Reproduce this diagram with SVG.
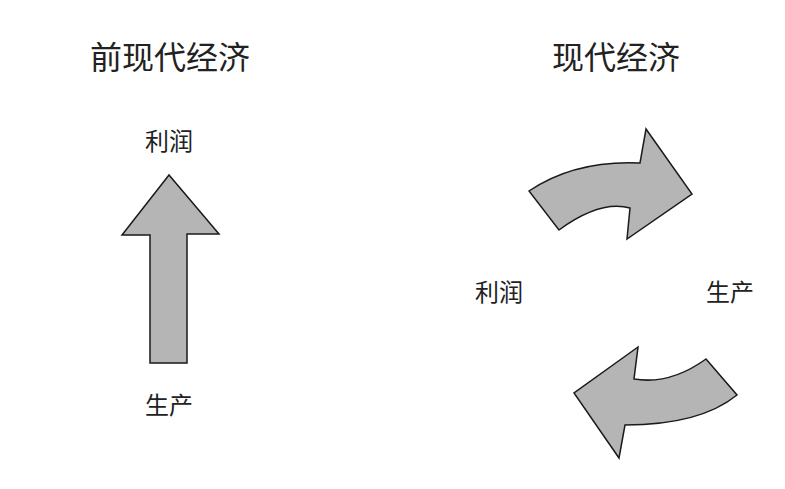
<svg xmlns="http://www.w3.org/2000/svg" width="785" height="489" viewBox="0 0 785 489">
<style>
.arrow{fill:#b5b5b5;stroke:#1a1a1a;stroke-width:1.5;stroke-linejoin:miter}
.t{font-family:"Noto Sans CJK SC","Noto Sans CJK JP",sans-serif;fill:#222;text-anchor:middle}
.title{font-size:32px}
.lab{font-size:24px}
</style>
<rect width="785" height="489" fill="#ffffff"/>
<g id="title-left"><text class="t title" x="170" y="69">前现代经济</text></g>
<g id="title-right"><text class="t title" x="616" y="69">现代经济</text></g>
<g id="label-left-profit"><text class="t lab" x="169" y="150">利润</text></g>
<g id="label-left-production"><text class="t lab" x="169" y="414">生产</text></g>
<g id="label-right-profit"><text class="t lab" x="499" y="301">利润</text></g>
<g id="label-right-production"><text class="t lab" x="730" y="301">生产</text></g>
<g id="connectors">
<path id="arrow-up" class="arrow" d="M150,363 L150,235 L122,235 L169,175 L219,234 L187,234 L187,363 Z"/>
<path id="arrow-top" class="arrow" d="M529,191 Q575,160 640,163 L646,129 L692,194 L627,239 L630,208 Q600,200 559,230 Z"/>
<path id="arrow-bottom" class="arrow" d="M706,359 Q670,385 634,379 L638,347 L574,393 L619,458 L625,425 Q700,425 737,395 Z"/>
</g>
</svg>
